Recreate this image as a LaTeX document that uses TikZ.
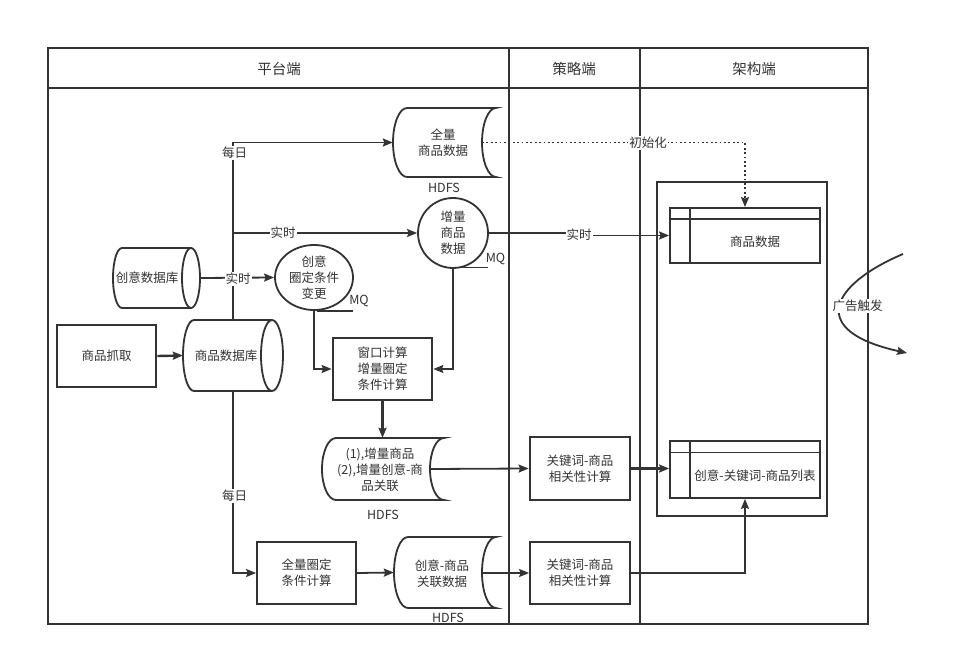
\documentclass[tikz,border=0pt]{standalone}
\usepackage{fontspec}
\setmainfont{Noto Sans CJK SC}
\usetikzlibrary{arrows.meta,shapes.geometric,calc}
\definecolor{ln}{HTML}{333333}
\newcommand{\storedshape}[5]{% x0 y0 x1 y1 s
  \pgfmathsetmacro{\sdA}{#1+#5}%
  \pgfmathsetmacro{\sdB}{#1+#5-0.552*#5}%
  \pgfmathsetmacro{\sdCy}{(#2+#4)/2}%
  \pgfmathsetmacro{\sdRy}{0.552*(#4-#2)/2}%
  \pgfmathsetmacro{\sdYa}{\sdCy-\sdRy}%
  \pgfmathsetmacro{\sdYb}{\sdCy+\sdRy}%
  \pgfmathsetmacro{\sdC}{#3-0.552*#5}%
  \pgfmathsetmacro{\sdD}{#3-#5}%
  \draw[shp] (\sdA,#2) -- (#3,#2) .. controls (\sdC,#2) and (\sdD,\sdYa) .. (\sdD,\sdCy)
    .. controls (\sdD,\sdYb) and (\sdC,#4) .. (#3,#4) -- (\sdA,#4)
    .. controls (\sdB,#4) and (#1,\sdYb) .. (#1,\sdCy)
    .. controls (#1,\sdYa) and (\sdB,#2) .. cycle;
}
\begin{document}
\begin{tikzpicture}[x=1pt,y=-1pt,
  txt/.style={font=\fontsize{12.5}{16}\selectfont, text=ln, align=center, inner sep=0pt},
  ttl/.style={font=\fontsize{14.5}{17}\selectfont, text=ln, inner sep=0pt},
  elbl/.style={txt, fill=white, inner xsep=1pt, inner ysep=1pt},
  boxn/.style={draw=ln, line width=1.8pt, txt, rectangle},
  boldbox/.style={boxn, line width=2.8pt},
  anchorbox/.style={rectangle, inner sep=0pt},
  shp/.style={draw=ln, line width=1.8pt},
  conn/.style={draw=ln, line width=1.8pt, -{Stealth[length=10pt,width=8pt,inset=1.5pt]}},
  thickconn/.style={conn, line width=2.4pt},
  dotconn/.style={conn, dash pattern=on 1.8pt off 2.6pt},
]
\useasboundingbox (0,0) rectangle (969,660);
\fill[white] (0,0) rectangle (969,660);

% frame and lanes
\draw[shp, line width=2.2pt] (48,48) rectangle (868,624);
\draw[shp, line width=2.2pt] (48,88) -- (868,88) (509,48) -- (509,624) (640,48) -- (640,624);
\node[ttl] (t1) at (279,69) {平台端};
\node[ttl] (t2) at (574,69) {策略端};
\node[ttl] (t3) at (754,69) {架构端};

% 商品抓取
\node[boldbox, minimum width=99pt, minimum height=62pt] (grab) at (106.5,356) {商品抓取};

% 商品数据库 cylinder
\draw[shp] (194,320) -- (272,320) (194,391) -- (272,391);
\draw[shp] (194,320) .. controls (187.9,320) and (183,335.9) .. (183,355.5) .. controls (183,375.1) and (187.9,391) .. (194,391);
\draw[shp] (272,355.5) ellipse [x radius=11, y radius=35.5];
\node[anchorbox, minimum width=100pt, minimum height=71pt] (gdb) at (233,355.5) {};
\node[txt] (gdbt) at (226,356) {商品数据库};

% 创意数据库 cylinder
\draw[shp] (122,248) -- (191,248) (122,308) -- (191,308);
\draw[shp] (122,248) .. controls (117,248) and (113,261.4) .. (113,278) .. controls (113,294.6) and (117,308) .. (122,308);
\draw[shp] (191,278) ellipse [x radius=9, y radius=30];
\node[anchorbox, minimum width=87pt, minimum height=60pt] (cdb) at (156.5,278) {};
\node[txt] (cdbt) at (147,278) {创意数据库};

% 创意圈定条件变更
\node[draw=ln, line width=1.8pt, ellipse, inner sep=0pt, minimum width=78pt, minimum height=65pt, txt] (cond) at (314,277.5) {创意\\圈定条件\\变更};
\node[txt] (mq2) at (359,301) {MQ};
\draw[shp] (317,311) -- (353,311);

% 增量商品数据 circle
\node[draw=ln, line width=1.8pt, circle, inner sep=0pt, minimum size=70pt, txt] (inc) at (453,233) {增量\\商品\\数据};
\node[txt] (mq1) at (495.5,259) {MQ};
\draw[shp] (458,267.5) -- (488,267.5);

% 全量商品数据 HDFS
\storedshape{393}{108}{496}{177}{14}
\node[anchorbox, minimum width=103pt, minimum height=69pt] (full) at (444.5,142.5) {};
\node[txt] (fullt) at (443,143) {全量\\商品数据};
\coordinate (fullr) at (482,142.5);
\node[txt] (hdfs1) at (444,188) {HDFS};

% 窗口计算
\node[boldbox, minimum width=99pt, minimum height=62pt] (win) at (382.5,369) {窗口计算\\增量圈定\\条件计算};

% (1)(2) HDFS
\storedshape{322}{438}{444}{500}{14}
\node[anchorbox, minimum width=122pt, minimum height=62pt] (inc12) at (383,469) {};
\node[txt] (inc12t) at (380,470) {(1),增量商品\\(2),增量创意-商\\品关联};
\coordinate (inc12r) at (430,469);
\node[txt] (hdfs2) at (383,515) {HDFS};

% 创意-商品关联数据
\storedshape{394}{537}{496}{608}{14}
\node[anchorbox, minimum width=102pt, minimum height=71pt] (rel) at (445,572.5) {};
\node[txt] (relt) at (442,574) {创意-商品\\关联数据};
\coordinate (relr) at (482,573);
\node[txt] (hdfs3) at (448,618) {HDFS};

% boxes
\node[boxn, minimum width=99pt, minimum height=62pt] (allc) at (306.5,573) {全量圈定\\条件计算};
\node[boldbox, minimum width=100pt, minimum height=63pt] (kw1) at (580,468.5) {关键词-商品\\相关性计算};
\node[boxn, minimum width=100pt, minimum height=62pt] (kw2) at (580,573) {关键词-商品\\相关性计算};

% architecture container and tables
\node[draw=ln, line width=1.8pt, minimum width=170pt, minimum height=334pt, inner sep=0pt] (arch) at (742,349) {};
\node[draw=ln, line width=1.8pt, minimum width=150pt, minimum height=55pt, inner sep=0pt] (tbl1) at (745,235.5) {};
\draw[shp] (670,219) -- (820,219) (690,208) -- (690,263);
\node[txt] (tbl1t) at (755,241.5) {商品数据};
\node[draw=ln, line width=1.8pt, minimum width=150pt, minimum height=57pt, inner sep=0pt] (tbl2) at (745,469.5) {};
\draw[shp] (670,452.5) -- (820,452.5) (690,441) -- (690,498);
\node[txt] (tbl2t) at (755,475.5) {创意-关键词-商品列表};

% connectors
\draw[thickconn] (grab.east) -- (gdb.west);
\draw[conn] (gdb.north) |- (full.west);
\draw[conn] (gdb.north) |- (inc.west);
\draw[conn] (cdb.east) -- (cond.west);
\draw[conn] (cond.south) |- (win.west);
\draw[conn] (inc.south) |- (win.east);
\draw[thickconn] (win.south) -- (win.south |- inc12.north);
\draw[conn] (inc12r) -- (kw1.west);
\draw[thickconn] (kw1.east) -- (kw1.east -| tbl2.west);
\draw[conn] (gdb.south) |- (allc.west);
\draw[conn] (allc.east) -- (rel.west);
\draw[conn] (relr) -- (kw2.west);
\draw[conn] (kw2.east) -| (tbl2.south);
\draw[conn] (inc.east) -- ++(91,0) |- (tbl1.west);
\draw[dotconn] (fullr) -| (tbl1.north);
\coordinate (adS) at (903,254);
\coordinate (adE) at (907,353);
\draw[conn] (adS) .. controls (830,285) and (807,331) .. (adE);

% edge labels
\node[elbl] (l1) at (234.5,153) {每日};
\node[elbl] (l2) at (283,233) {实时};
\node[elbl] (l3) at (238,279) {实时};
\node[elbl] (l4) at (234.5,496) {每日};
\node[elbl] (l5) at (579,235) {实时};
\node[elbl] (l6) at (648,143) {初始化};
\node[elbl] (l7) at (857.5,306) {广告触发};
\end{tikzpicture}
\end{document}
